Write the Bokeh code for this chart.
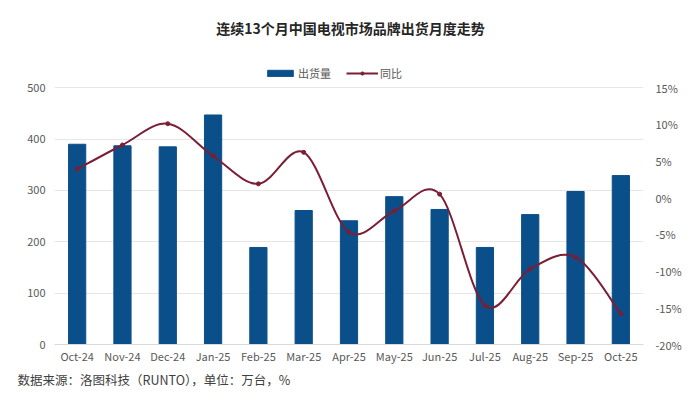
import numpy as np
from bokeh.plotting import figure
from bokeh.models import (Range1d, LinearAxis, FixedTicker, PrintfTickFormatter,
                          Legend, LegendItem, Title, Label)
from bokeh.embed import file_html
from bokeh.resources import INLINE

months = ["Oct-24", "Nov-24", "Dec-24", "Jan-25", "Feb-25", "Mar-25", "Apr-25",
          "May-25", "Jun-25", "Jul-25", "Aug-25", "Sep-25", "Oct-25"]
shipments = [390, 387, 385, 447, 189, 261, 241, 288, 263, 189, 253, 298, 329]
yoy = [3.9, 7.2, 10.1, 5.7, 1.9, 6.2, -4.7, -1.8, 0.5, -14.7, -9.7, -8.1, -15.8]
left_ticks = [0, 100, 200, 300, 400, 500]
right_ticks = [-20, -15, -10, -5, 0, 5, 10, 15]

title_text = "连续13个月中国电视市场品牌出货月度走势"
source_text = "数据来源：洛图科技（RUNTO），单位：万台，%"

FONT = "Noto Sans CJK SC"
BAR = "#0B4F8A"
LINE = "#7A1F35"
TXT = "#595959"

xs = list(range(len(months)))

# frame extends up to the top of the figure; title/legend sit above the 500 line
TOP_EXTRA = 670 / 500.0
left_lo, left_hi = left_ticks[0], left_ticks[-1]
right_lo, right_hi = right_ticks[0], right_ticks[-1]

p = figure(width=692, height=397, output_backend="svg", toolbar_location=None,
           x_range=Range1d(-0.5, len(months) - 0.5),
           y_range=Range1d(left_lo, left_lo + (left_hi - left_lo) * TOP_EXTRA),
           min_border_left=54, min_border_right=49, min_border_top=0,
           min_border_bottom=53)
p.outline_line_color = None
p.background_fill_color = "white"
p.border_fill_color = "white"
p.extra_y_ranges = {"yoy": Range1d(right_lo, right_lo + (right_hi - right_lo) * TOP_EXTRA)}

# bars
bar_r = p.vbar(x=xs, top=shipments, width=0.38, color=BAR)

# smooth line via bezier segments computed from data
n = len(yoy)
x0s, y0s, x1s, y1s, cx0, cy0, cx1, cy1 = [], [], [], [], [], [], [], []
for i in range(n - 1):
    pa = (xs[max(i - 1, 0)], yoy[max(i - 1, 0)])
    pb = (xs[i], yoy[i])
    pc = (xs[i + 1], yoy[i + 1])
    pd = (xs[min(i + 2, n - 1)], yoy[min(i + 2, n - 1)])
    x0s.append(pb[0]); y0s.append(pb[1]); x1s.append(pc[0]); y1s.append(pc[1])
    cx0.append(pb[0] + (pc[0] - pa[0]) / 6); cy0.append(pb[1] + (pc[1] - pa[1]) / 6)
    cx1.append(pc[0] - (pd[0] - pb[0]) / 6); cy1.append(pc[1] - (pd[1] - pb[1]) / 6)
p.bezier(x0=x0s, y0=y0s, x1=x1s, y1=y1s, cx0=cx0, cy0=cy0, cx1=cx1, cy1=cy1,
         line_color=LINE, line_width=2, y_range_name="yoy")
pt_r = p.scatter(x=xs, y=yoy, size=4, color=LINE, y_range_name="yoy")
legend_line = p.line(x=xs[:1], y=yoy[:1], line_color=LINE, line_width=2,
                     y_range_name="yoy")

# axes
p.xaxis.ticker = FixedTicker(ticks=xs)
p.xaxis.major_label_overrides = {i: m for i, m in enumerate(months)}
p.xaxis.axis_line_color = "#D9D9D9"
p.xaxis.major_tick_line_color = None
p.xaxis.major_tick_out = 0
p.xaxis.major_tick_in = 0
p.xaxis.minor_tick_line_color = None
p.xaxis.major_label_text_font = FONT
p.xaxis.major_label_text_font_size = "11px"
p.xaxis.major_label_text_color = TXT
p.xaxis.major_label_standoff = 3

p.yaxis.ticker = FixedTicker(ticks=left_ticks)
p.yaxis.axis_line_color = None
p.yaxis.major_tick_line_color = None
p.yaxis.major_tick_out = 0
p.yaxis.major_tick_in = 0
p.yaxis.minor_tick_line_color = None
p.yaxis.major_label_text_font = FONT
p.yaxis.major_label_text_font_size = "11px"
p.yaxis.major_label_text_color = TXT
p.yaxis.major_label_standoff = 9

ra = LinearAxis(y_range_name="yoy", ticker=FixedTicker(ticks=right_ticks),
                formatter=PrintfTickFormatter(format="%d%%"))
ra.axis_line_color = None
ra.major_tick_line_color = None
ra.major_tick_out = 0
ra.major_tick_in = 0
ra.minor_tick_line_color = None
ra.major_label_text_font = FONT
ra.major_label_text_font_size = "11px"
ra.major_label_text_color = TXT
ra.major_label_standoff = 12
p.add_layout(ra, "right")

p.xgrid.grid_line_color = None
p.ygrid.grid_line_color = "#E6E6E6"

# legend inside the frame, above the 500 line
legend = Legend(items=[LegendItem(label="出货量", renderers=[bar_r]),
                       LegendItem(label="同比", renderers=[legend_line, pt_r])],
                orientation="horizontal", location=(210, 263),
                label_text_font=FONT, label_text_font_size="11px",
                label_text_color=TXT, glyph_width=32, glyph_height=8,
                spacing=15, padding=2, margin=0, label_standoff=2,
                border_line_color=None, background_fill_alpha=0)
p.add_layout(legend, "center")

# title
p.add_layout(Label(x=296, y=317, x_units="screen", y_units="screen", text=title_text,
                   text_font=FONT, text_font_size="14px", text_font_style="bold",
                   text_color="#262626", text_align="center", text_baseline="middle"))

# source note below axis
p.add_layout(Title(text=source_text, align="left", offset=-37, text_font=FONT,
                   text_font_size="12.5px", text_font_style="normal",
                   text_color="#404040", standoff=2), "below")

open("out.html", "w").write(file_html(p, INLINE))
